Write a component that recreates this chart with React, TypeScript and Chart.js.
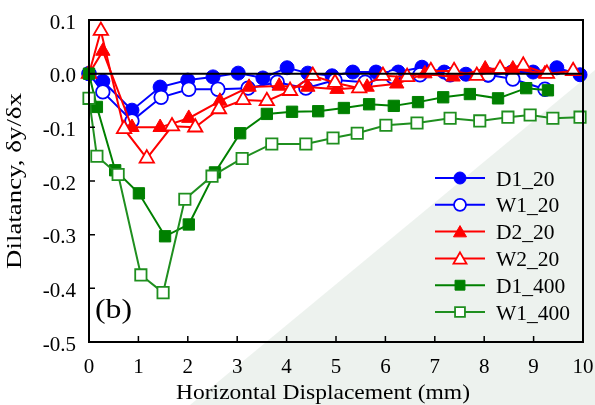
import React, { useEffect, useRef } from 'react';
import { Chart, registerables } from 'chart.js';

Chart.register(...registerables);

// ---------- data ----------
const D1_20_X = [0, 0.28, 0.87, 1.44, 2.0, 2.51, 3.02, 3.52, 4.01, 4.43, 4.92, 5.34, 5.81, 6.26, 6.74, 7.19, 7.63, 8.08, 8.56, 8.99, 9.47, 9.94];
const D1_20_Y = [0, -0.014, -0.068, -0.025, -0.012, -0.006, 0.001, -0.008, 0.011, 0.001, -0.004, 0.003, 0.003, 0.003, 0.012, 0.003, -0.001, -0.003, 0.003, 0.003, 0.011, -0.002];

const W1_20_X = [0, 0.28, 0.87, 1.46, 2.02, 2.61, 3.22, 3.81, 4.39, 4.98, 5.59, 6.15, 6.7, 7.31, 8.08, 8.58, 9.23];
const W1_20_Y = [0, -0.034, -0.088, -0.044, -0.029, -0.029, -0.027, -0.016, -0.027, -0.012, -0.016, -0.006, -0.002, -0.002, -0.002, -0.01, -0.029];

const D2_20_X = [0, 0.28, 0.87, 1.44, 2.02, 2.65, 3.24, 3.85, 4.43, 5.02, 5.63, 6.23, 6.8, 7.37, 8.02, 8.58, 9.23];
const D2_20_Y = [0, 0.042, -0.1, -0.1, -0.083, -0.051, -0.025, -0.023, -0.025, -0.029, -0.025, -0.019, 0, -0.006, 0.009, 0.009, 0];

const W2_20_X = [0, 0.24, 0.71, 1.17, 1.68, 2.15, 2.63, 3.12, 3.6, 4.07, 4.53, 4.98, 5.47, 5.95, 6.44, 6.92, 7.39, 7.85, 8.32, 8.79, 9.27, 9.8];
const W2_20_Y = [0, 0.08, -0.103, -0.158, -0.098, -0.1, -0.066, -0.049, -0.051, -0.032, -0.004, -0.017, -0.027, -0.004, -0.006, 0.005, 0.005, -0.004, 0.009, 0.015, 0, 0.005];

const D1_400_X = [0, 0.16, 0.53, 1.01, 1.54, 2.02, 2.55, 3.06, 3.6, 4.11, 4.64, 5.16, 5.67, 6.17, 6.66, 7.17, 7.71, 8.28, 8.85, 9.29];
const D1_400_Y = [0, -0.062, -0.18, -0.223, -0.303, -0.281, -0.184, -0.111, -0.075, -0.071, -0.07, -0.064, -0.057, -0.06, -0.053, -0.044, -0.038, -0.046, -0.027, -0.031];

const W1_400_X = [0, 0.16, 0.59, 1.05, 1.5, 1.94, 2.49, 3.1, 3.7, 4.39, 4.94, 5.43, 6.01, 6.64, 7.31, 7.91, 8.48, 8.93, 9.39, 9.94];
const W1_400_Y = [-0.046, -0.154, -0.188, -0.375, -0.408, -0.234, -0.191, -0.158, -0.131, -0.131, -0.12, -0.111, -0.096, -0.092, -0.083, -0.088, -0.081, -0.077, -0.083, -0.081];

const SERIES_NAMES = ['D1_20', 'W1_20', 'D2_20', 'W2_20', 'D1_400', 'W1_400'];
const X_TICKS = [0, 1, 2, 3, 4, 5, 6, 7, 8, 9, 10];
const X_TICK_LABELS = ['0', '1', '2', '3', '4', '5', '6', '7', '8', '9', '10'];
const Y_TICKS = [0.1, 0.0, -0.1, -0.2, -0.3, -0.4, -0.5];
const Y_TICK_LABELS = ['0.1', '0.0', '-0.1', '-0.2', '-0.3', '-0.4', '-0.5'];
const X_TITLE = 'Horizontal Displacement (mm)';
const Y_TITLE = 'Dilatancy, \u03b4y/\u03b4x';
const PANEL_LABEL = '(b)';

// ---------- styles ----------
const FONT_FAMILY = '"Liberation Serif", "Times New Roman", Times, serif';
const BLUE = '#0000ff';
const RED = '#ff0000';
const GREEN = '#008000';
const GREEN_OPEN = '#1f8f1f';

type Style = { color: string; shape: 'circle' | 'triangle' | 'rect'; filled: boolean; r: number; lr: number };
const STYLES: Style[] = [
  { color: BLUE, shape: 'circle', filled: true, r: 7, lr: 6 },
  { color: BLUE, shape: 'circle', filled: false, r: 6.8, lr: 6 },
  { color: RED, shape: 'triangle', filled: true, r: 8.3, lr: 7.5 },
  { color: RED, shape: 'triangle', filled: false, r: 8.3, lr: 7.5 },
  { color: GREEN, shape: 'rect', filled: true, r: 8, lr: 7 },
  { color: GREEN_OPEN, shape: 'rect', filled: false, r: 8, lr: 7 },
];

const SERIES_X = [D1_20_X, W1_20_X, D2_20_X, W2_20_X, D1_400_X, W1_400_X];
const SERIES_Y = [D1_20_Y, W1_20_Y, D2_20_Y, W2_20_Y, D1_400_Y, W1_400_Y];

function drawMarker(ctx: CanvasRenderingContext2D, st: Style, x: number, y: number, r: number) {
  ctx.beginPath();
  if (st.shape === 'circle') {
    ctx.arc(x, y, r, 0, Math.PI * 2);
  } else if (st.shape === 'triangle') {
    const a = (2 * Math.PI) / 3;
    ctx.moveTo(x, y - r);
    ctx.lineTo(x + Math.sin(a) * r, y - Math.cos(a) * r);
    ctx.lineTo(x + Math.sin(2 * a) * r, y - Math.cos(2 * a) * r);
    ctx.closePath();
  } else {
    const s = Math.SQRT1_2 * r;
    ctx.rect(x - s, y - s, 2 * s, 2 * s);
  }
  ctx.fillStyle = st.filled ? st.color : '#ffffff';
  ctx.fill();
  ctx.lineWidth = st.filled ? 1 : 1.8;
  ctx.strokeStyle = st.color;
  ctx.stroke();
}

// draw text stretched along its direction to a target length
function fitText(ctx: CanvasRenderingContext2D, text: string, cx: number, cy: number, targetW: number, rotate: boolean) {
  const w = ctx.measureText(text).width;
  const s = targetW / w;
  ctx.save();
  ctx.translate(cx, cy);
  if (rotate) ctx.rotate(-Math.PI / 2);
  ctx.scale(s, 1);
  ctx.textAlign = 'center';
  ctx.textBaseline = 'alphabetic';
  ctx.fillText(text, 0, 0);
  ctx.restore();
}

const decorPlugin = {
  id: 'decor',
  beforeDraw(chart: any) {
    const ctx: CanvasRenderingContext2D = chart.ctx;
    const W = chart.width, H = chart.height;
    ctx.save();
    ctx.fillStyle = '#ffffff';
    ctx.fillRect(0, 0, W, H);
    // faint background watermark tint (bottom-right)
    ctx.fillStyle = 'rgba(214,226,218,0.45)';
    ctx.beginPath();
    ctx.moveTo(190, H);
    ctx.lineTo(W, 70);
    ctx.lineTo(W, H);
    ctx.closePath();
    ctx.fill();
    ctx.restore();
  },
  afterDraw(chart: any) {
    const ctx: CanvasRenderingContext2D = chart.ctx;
    const { left, right, top, bottom } = chart.chartArea;
    const xs = chart.scales.x;
    const ys = chart.scales.y;
    ctx.save();
    // zero line
    const y0 = ys.getPixelForValue(0);
    ctx.strokeStyle = '#000';
    ctx.lineWidth = 2;
    ctx.beginPath();
    ctx.moveTo(left, y0);
    ctx.lineTo(right, y0);
    ctx.stroke();
    // frame
    ctx.lineWidth = 2;
    ctx.strokeRect(left, top, right - left, bottom - top);
    // inward ticks
    ctx.lineWidth = 1.5;
    ctx.beginPath();
    X_TICKS.forEach((v) => {
      const px = xs.getPixelForValue(v);
      ctx.moveTo(px, bottom);
      ctx.lineTo(px, bottom - 6);
    });
    Y_TICKS.forEach((v) => {
      const py = ys.getPixelForValue(v);
      ctx.moveTo(left, py);
      ctx.lineTo(left + 6, py);
    });
    ctx.stroke();

    // tick labels
    ctx.fillStyle = '#000';
    ctx.font = `21px ${FONT_FAMILY}`;
    ctx.textAlign = 'center';
    ctx.textBaseline = 'alphabetic';
    X_TICKS.forEach((v, i) => {
      ctx.fillText(X_TICK_LABELS[i], xs.getPixelForValue(v), bottom + 31);
    });
    ctx.textAlign = 'right';
    Y_TICKS.forEach((v, i) => {
      ctx.fillText(Y_TICK_LABELS[i], left - 13, ys.getPixelForValue(v) + 8.5);
    });

    // axis titles
    ctx.font = `21px ${FONT_FAMILY}`;
    fitText(ctx, X_TITLE, (left + right) / 2 - 13, 399, 294, false);
    fitText(ctx, Y_TITLE, 21, (top + bottom) / 2, 176, true);

    // panel label
    ctx.font = `28px ${FONT_FAMILY}`;
    const pw = ctx.measureText(PANEL_LABEL).width;
    ctx.save();
    ctx.translate(left + 6, bottom - 24);
    ctx.scale(37 / pw, 1);
    ctx.textAlign = 'left';
    ctx.fillText(PANEL_LABEL, 0, 0);
    ctx.restore();

    // legend
    const lx0 = right - 148;
    const lx1 = right - 98;
    const ly0 = bottom - 164;
    const step = 26.8;
    ctx.font = `21.5px ${FONT_FAMILY}`;
    SERIES_NAMES.forEach((name, i) => {
      const st = STYLES[i];
      const y = ly0 + i * step;
      ctx.strokeStyle = st.color;
      ctx.lineWidth = 2;
      ctx.beginPath();
      ctx.moveTo(lx0, y);
      ctx.lineTo(lx1, y);
      ctx.stroke();
      drawMarker(ctx, st, (lx0 + lx1) / 2, st.shape === 'triangle' ? y + 1.5 : y, st.lr);
      ctx.fillStyle = '#000';
      ctx.textAlign = 'left';
      ctx.textBaseline = 'alphabetic';
      ctx.fillText(name, lx1 + 11, y + 7.5);
    });
    ctx.restore();
  },
};

export default function App() {
  const ref = useRef<HTMLCanvasElement | null>(null);
  useEffect(() => {
    if (!ref.current) return;
    const datasets = SERIES_NAMES.map((name, i) => {
      const st = STYLES[i];
      return {
        label: name,
        data: SERIES_X[i].map((x, k) => ({ x, y: SERIES_Y[i][k] })),
        borderColor: st.color,
        borderWidth: 2,
        pointStyle: st.shape,
        pointRadius: st.r,
        pointBackgroundColor: st.filled ? st.color : '#ffffff',
        pointBorderColor: st.color,
        pointBorderWidth: st.filled ? 1 : 1.8,
        showLine: true,
        fill: false,
        tension: 0,
        clip: false as any,
        order: SERIES_NAMES.length - i,
      };
    });
    const chart = new Chart(ref.current, {
      type: 'scatter',
      data: { datasets: datasets as any },
      options: {
        responsive: false,
        animation: false,
        devicePixelRatio: 1,
        layout: { padding: { top: 20, right: 12, left: 0, bottom: 0 } },
        plugins: { legend: { display: false }, tooltip: { enabled: false } },
        scales: {
          x: {
            type: 'linear',
            min: 0,
            max: 10,
            afterFit: (s: any) => { s.height = 63; s.paddingLeft = 0; s.paddingRight = 0; },
            ticks: { display: false, stepSize: 1 },
            grid: { display: false, drawTicks: false },
            border: { display: false },
          },
          y: {
            type: 'linear',
            min: -0.5,
            max: 0.1,
            afterFit: (s: any) => { s.width = 89; s.paddingTop = 0; s.paddingBottom = 0; },
            ticks: { display: false, stepSize: 0.1 },
            grid: { display: false, drawTicks: false },
            border: { display: false },
          },
        },
      },
      plugins: [decorPlugin],
    });
    return () => { chart.destroy(); };
  }, []);
  return (
    <div style={{ position: 'absolute', left: 0, top: 0, width: 595, height: 405 }}>
      <canvas ref={ref} width={595} height={405} style={{ width: 595, height: 405, display: 'block' }} />
    </div>
  );
}
